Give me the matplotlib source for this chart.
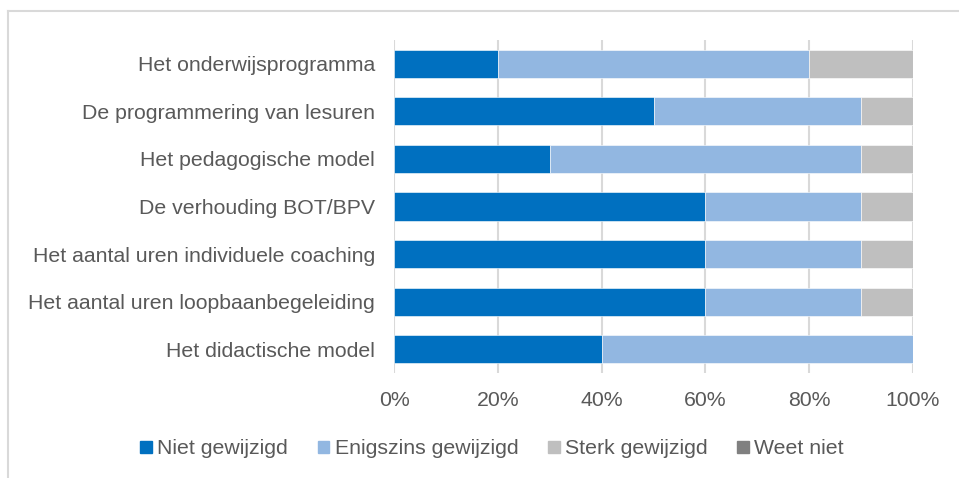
import matplotlib.pyplot as plt
import numpy as np
from matplotlib.lines import Line2D

plt.rcParams['font.family'] = ['Liberation Sans', 'DejaVu Sans']

categories = ["Het onderwijsprogramma", "De programmering van lesuren",
              "Het pedagogische model", "De verhouding BOT/BPV",
              "Het aantal uren individuele coaching",
              "Het aantal uren loopbaanbegeleiding", "Het didactische model"]
niet = [20, 50, 30, 60, 60, 60, 40]
enigszins = [60, 40, 60, 30, 30, 30, 60]
sterk = [20, 10, 10, 10, 10, 10, 0]
weet_niet = [0, 0, 0, 0, 0, 0, 0]

series = ["Niet gewijzigd", "Enigszins gewijzigd", "Sterk gewijzigd", "Weet niet"]
colors = ["#0070C0", "#92B7E1", "#BFBFBF", "#808080"]
text_col = "#595959"

fig = plt.figure(figsize=(9.59, 4.78), dpi=100)
ax = fig.add_axes([394 / 959, 1 - 373 / 478, (913 - 394) / 959, 333 / 478])

y = np.arange(len(categories))
left = np.zeros(len(categories))
for name, vals, c in zip(series, [niet, enigszins, sterk, weet_niet], colors):
    ax.barh(y, vals, left=left, height=0.59, color=c, label=name,
            edgecolor='white', linewidth=0.4, zorder=3)
    left += np.array(vals)

ax.set_ylim(len(categories) - 0.5, -0.5)
ax.set_xlim(0, 100)
ax.set_xticks([0, 20, 40, 60, 80, 100])
ax.set_xticklabels([f"{v}%" for v in [0, 20, 40, 60, 80, 100]])
ax.set_yticks(y)
ax.set_yticklabels(categories)
ax.tick_params(length=0, labelsize=15.3, labelcolor=text_col)
ax.tick_params(axis='x', pad=13)
ax.tick_params(axis='y', pad=13.7)
ax.grid(axis='x', color='#D9D9D9', linewidth=1.5, zorder=0)
for s in ax.spines.values():
    s.set_visible(False)

handles = [plt.Rectangle((0, 0), 1, 1, color=c) for c in colors]
fig.legend(handles, series, loc='center', bbox_to_anchor=(492 / 959, 1 - 449 / 478),
           ncol=4, frameon=False, fontsize=15.3, labelcolor=text_col,
           handlelength=0.55, handleheight=0.55, handletextpad=0.25, columnspacing=1.4)

# outer chart border (partly visible)
fig.add_artist(Line2D([8 / 959, 1], [1 - 11 / 478, 1 - 11 / 478], color='#D9D9D9', lw=1.5))
fig.add_artist(Line2D([8 / 959, 8 / 959], [0, 1 - 11 / 478], color='#D9D9D9', lw=1.5))

fig.savefig("out.png", dpi=100)
